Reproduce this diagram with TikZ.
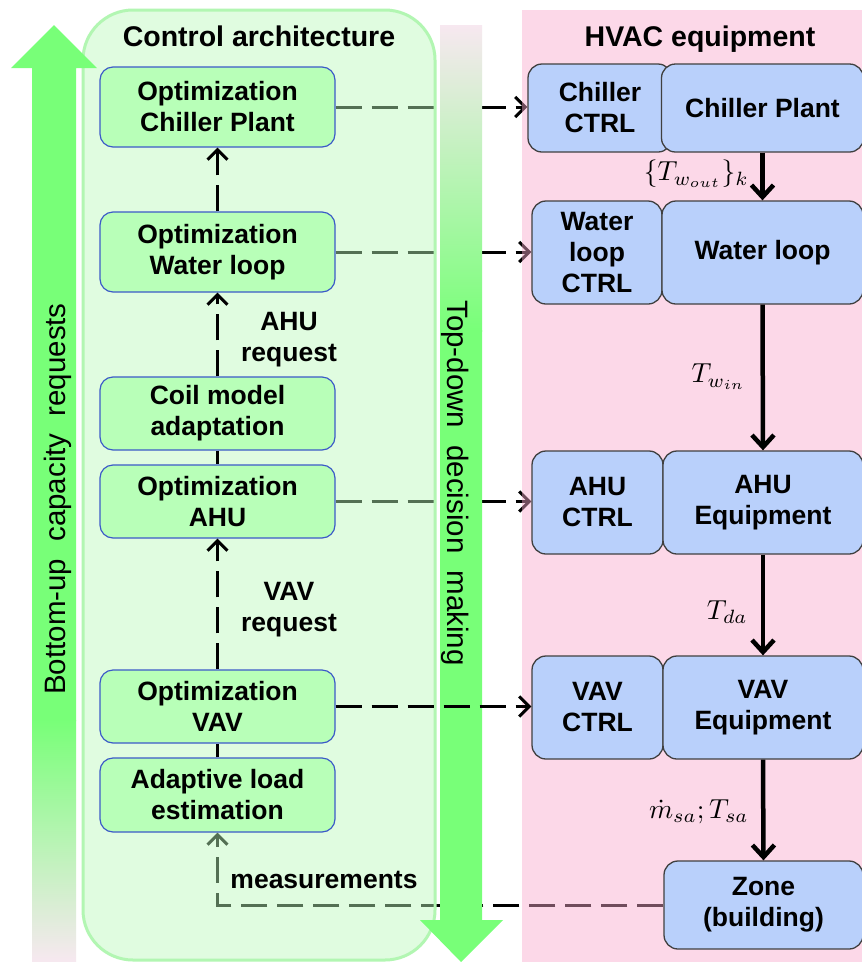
\documentclass[tikz,border=0pt]{standalone}
\usepackage{graphicx}
\usepackage[no-math]{fontspec}
\setmainfont{Liberation Sans}
\usetikzlibrary{arrows.meta}

\pgfdeclarelayer{wires}
\pgfdeclarelayer{panels}
\pgfdeclarelayer{bigarrows}
\pgfsetlayers{wires,panels,bigarrows,main}

\definecolor{arrowgreen}{RGB}{120,255,120}
\definecolor{palepink}{RGB}{247,232,240}
\definecolor{fadegreen}{RGB}{200,236,200}
\definecolor{ctrlpanel}{RGB}{187,249,187}
\definecolor{ctrlpanelrim}{RGB}{178,246,178}
\definecolor{hvacpanel}{RGB}{249,169,204}
\definecolor{optfill}{RGB}{184,255,184}
\definecolor{optrim}{RGB}{60,90,200}
\definecolor{eqfill}{RGB}{185,208,251}
\definecolor{eqrim}{RGB}{64,64,64}

\newcommand\hvboxfont{\bfseries\fontsize{26.5}{31}\selectfont}
\newcommand\hvtitlefont{\bfseries\fontsize{28.5}{33}\selectfont}
\newcommand\hvarrowfont{\fontsize{29.5}{34}\selectfont}
% math labels on the flow arrows, enlarged from 10pt
\newcommand\hvmath[1]{\scalebox{2.75}{$#1$}}

\begin{document}
\begin{tikzpicture}[x=1pt,y=-1pt,
  optbox/.style={draw=optrim, line width=1.2pt, fill=optfill, rounded corners=13pt,
    minimum width=235pt, inner sep=0pt, align=center, font=\hvboxfont},
  eqbox/.style={draw=eqrim, line width=1.3pt, fill=eqfill, rounded corners=14pt,
    inner sep=0pt, align=center, font=\hvboxfont},
  plainlabel/.style={align=center, font=\hvboxfont},
  dashconn/.style={line width=3pt, dash pattern=on 26pt off 10pt},
  dashtip/.style={-{Straight Barb[length=10pt,width=20pt]}},
  flowarrow/.style={line width=4.5pt, -{Straight Barb[length=12pt,width=22pt]}},
  mathlabel/.style={font=\normalsize, inner sep=0pt, anchor=east}
]
\useasboundingbox (0,0) rectangle (862,962);

% ---- control-side blocks
\node[optbox, minimum height=80pt] (optCP)  at (217.5,107)   {Optimization\\Chiller Plant};
\node[optbox, minimum height=80pt] (optWL)  at (217.5,252)   {Optimization\\Water loop};
\node[optbox, minimum height=73pt] (coil)   at (217.5,413.5) {Coil model\\adaptation};
\node[optbox, minimum height=73pt] (optAHU) at (217.5,501.5) {Optimization\\AHU};
\node[optbox, minimum height=73pt] (optVAV) at (217.5,706.5) {Optimization\\VAV};
\node[optbox, minimum height=74pt] (adapt)  at (217.5,795)   {Adaptive load\\estimation};

% ---- equipment-side blocks
\node[eqbox, minimum width=144pt, minimum height=88pt]  (ctrlCP)  at (600,108)     {Chiller\\CTRL};
\node[eqbox, minimum width=202pt, minimum height=88pt]  (plantCP) at (762.5,108)   {Chiller Plant};
\node[eqbox, minimum width=130pt, minimum height=103pt] (ctrlWL)  at (597,252.5)   {Water\\loop\\CTRL};
\node[eqbox, minimum width=201pt, minimum height=103pt] (WL)      at (762.5,252.5) {Water loop};
\node[eqbox, minimum width=131pt, minimum height=103pt] (ctrlAHU) at (597.5,502.5) {AHU\\CTRL};
\node[eqbox, minimum width=200pt, minimum height=103pt] (AHU)     at (763,502.5)   {AHU\\Equipment};
\node[eqbox, minimum width=131pt, minimum height=103pt] (ctrlVAV) at (597.5,707.5) {VAV\\CTRL};
\node[eqbox, minimum width=200pt, minimum height=103pt] (VAV)     at (763,707.5)   {VAV\\Equipment};
\node[eqbox, minimum width=199pt, minimum height=88pt]  (zone)    at (763.5,905)   {Zone\\(building)};

% ---- titles and labels
\node[anchor=base, font=\hvtitlefont] (ctitle) at (259,46) {Control architecture};
\node[anchor=base, font=\hvtitlefont] (htitle) at (700,46) {HVAC equipment};
\node[plainlabel] (ahureq) at (289,340) {AHU\\request};
\node[plainlabel] (vavreq) at (289,610) {VAV\\request};
\node[plainlabel, anchor=base] (meas) at (324,888) {measurements};

% ---- requests passed upwards
\draw[dashconn, dashtip] (optWL.north) -- (optCP.south);
\draw[dashconn, dashtip] (coil.north) -- (optWL.south);
\draw[dashconn] (coil.south) -- (optAHU.north);
\draw[dashconn, dashtip] (optVAV.north) -- (optAHU.south);
\draw[dashconn] (adapt.north) -- (optVAV.south);
\draw[dashconn, dashtip] (optVAV.east) -- (optVAV.east -| ctrlVAV.west);

% ---- physical flow through the plant
\draw[flowarrow] (plantCP.south) -- (WL.north);
\draw[flowarrow] (WL.south) -- (AHU.north);
\draw[flowarrow] (AHU.south) -- (VAV.north);
\draw[flowarrow] (VAV.south) -- (zone.north);
\node[mathlabel] (lwout) at (749,174) {\hvmath{\{T_{w_{out}}\}_k}};
\node[mathlabel] (lwin)  at (746,377) {\hvmath{T_{w_{in}}}};
\node[mathlabel] (lda)   at (748,612) {\hvmath{T_{da}}};
\node[mathlabel] (lsa)   at (749,812) {\hvmath{\dot{m}_{sa};T_{sa}}};

% ---- set-points sent to the local controllers, and measurements back
\begin{pgfonlayer}{wires}
  \fill[white] (0,0) rectangle (862,962);
  \draw[dashconn, dashtip] (optCP.east) -- (optCP.east -| ctrlCP.west);
  \draw[dashconn, dashtip] (optWL.east) -- (optWL.east -| ctrlWL.west);
  \draw[dashconn, dashtip] (optAHU.east) -- (optAHU.east -| ctrlAHU.west);
  \draw[dashconn, dashtip] (zone.west) -| (adapt.south);
\end{pgfonlayer}

% ---- translucent background panels
\begin{pgfonlayer}{panels}
  \path[fill=ctrlpanel, fill opacity=0.45, draw=ctrlpanelrim, line width=3pt,
        rounded corners=50pt] (83,10) rectangle (435,960);
  \fill[hvacpanel, fill opacity=0.45] (522,10) rectangle (870,970);
\end{pgfonlayer}

% ---- the two wide direction arrows
\begin{pgfonlayer}{bigarrows}
  \fill[arrowgreen] (54,25) -- (97,68) -- (76,68) -- (76,721) -- (32,721)
    -- (32,68) -- (11,68) -- cycle;
  \shade[top color=arrowgreen, middle color=fadegreen, bottom color=palepink]
    (32,720) rectangle (76,962);
  \shade[top color=palepink, middle color=fadegreen, bottom color=arrowgreen]
    (440,25) rectangle (482,331);
  \fill[arrowgreen] (440,330) -- (482,330) -- (482,920) -- (503,920) -- (461,962)
    -- (420,920) -- (440,920) -- cycle;
  \node[rotate=90, anchor=base, font=\hvarrowfont] (bulabel) at (65,499)
    {Bottom-up\hspace{0.3em} capacity\hspace{0.3em} requests};
  \node[rotate=-90, anchor=base, font=\hvarrowfont] (tdlabel) at (447,483)
    {Top-down\hspace{0.3em} decision\hspace{0.3em} making};
\end{pgfonlayer}
\end{tikzpicture}
\end{document}
